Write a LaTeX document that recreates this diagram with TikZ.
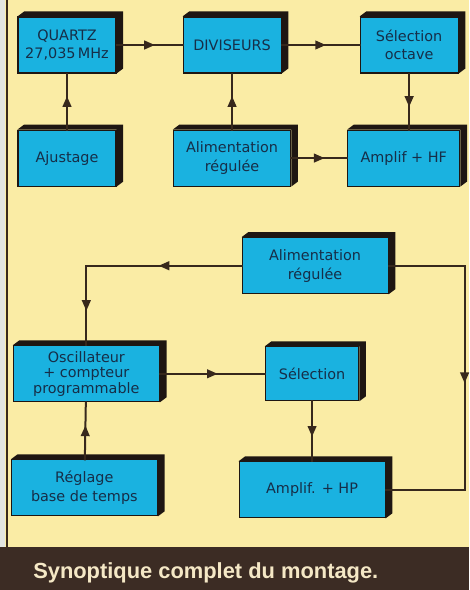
\documentclass[tikz,border=0pt]{standalone}
\usepackage{fontspec}
\setmainfont{DejaVu Sans}
\newfontfamily\captionfont{Liberation Sans}
\usetikzlibrary{arrows.meta, positioning, decorations.markings}

\definecolor{paper}{RGB}{250,236,165}
\definecolor{cyanbox}{RGB}{26,178,224}
\definecolor{boxtext}{RGB}{22,46,72}
\definecolor{wirecol}{RGB}{55,40,28}
\definecolor{depthcol}{RGB}{30,22,18}
\definecolor{band}{RGB}{60,44,36}
\definecolor{bandtext}{RGB}{245,232,198}
\definecolor{margin}{RGB}{226,229,226}

\begin{document}
\begin{tikzpicture}[
    node distance=42pt and 50pt,
    block/.style   ={draw=depthcol, line width=0.8pt, fill=cyanbox, text=boxtext,
                     minimum width=73.5pt, minimum height=42pt, inner sep=2pt,
                     align=center, font=\fontsize{10.8pt}{14pt}\selectfont},
    wide/.style    ={block, minimum width=109.5pt},
    wire/.style    ={draw=wirecol, line width=1.5pt, line cap=rect},
    midarrow/.style={postaction={decorate}, decoration={markings,
                     mark=at position 0.5 with {\arrow[xshift=4pt]{Triangle[length=8pt, width=6.5pt]}}}},
]

% ── Page ───────────────────────────────────────────────────────────────
\useasboundingbox (-50.25pt,33.75pt) rectangle (301.5pt,-408.75pt);
\fill[paper]  (-50.25pt,33.75pt) rectangle (301.5pt,-408.75pt);
\fill[margin] (-50.25pt,33.75pt) rectangle (-46.5pt,-376.5pt);
\draw[wirecol, line width=1.2pt] (-45pt,33.75pt) -- (-45pt,-376.5pt);
\fill[band]   (-50.25pt,-376.5pt) rectangle (301.5pt,-408.75pt);
\node[anchor=base west, inner sep=0pt, text=bandtext,
      font=\captionfont\bfseries\fontsize{16.4pt}{17pt}\selectfont] (caption)
      at (-25.5pt,-399.75pt) {Synoptique complet du montage.};

% ── Upper chain ────────────────────────────────────────────────────────
\node[block] (quartz) {QUARTZ\\27,035\,MHz};
\node[block, right=49.5pt of quartz] (divs) {DIVISEURS};
\node[block, right=58.5pt of divs]   (octv) {Sélection\\octave};
\node[block, below=of quartz] (ajust) {Ajustage};
\node[block, below=of divs,  minimum width=88pt] (alim) {Alimentation\\régulée};
\node[block, below=of octv,  xshift=-4pt, minimum width=84pt] (amphf) {Amplif + HF};

% ── Lower chain ────────────────────────────────────────────────────────
\node[wide, below=119pt of ajust, xshift=14.5pt,
      font=\fontsize{10.8pt}{11.5pt}\selectfont] (osc)
      {Oscillateur\\+ compteur\\programmable};
\node[block, right=78.75pt of osc, minimum width=70pt, minimum height=40.5pt] (sel) {Sélection};
\node[wide, above=39pt of sel, xshift=2.25pt] (alim2) {Alimentation\\régulée};
\node[wide, below=42.75pt of osc, xshift=-1.5pt] (regl) {Réglage\\base de temps};
\node[wide, below=45pt of sel] (amphp) {Amplif. + HP};

% ── Box depth ──────────────────────────────────────────────────────────
\foreach \bx in {quartz, divs, octv, ajust, alim, amphf, alim2, osc, sel, regl, amphp}
  \fill[depthcol] (\bx.north west) -- ++(5pt,3.75pt)
                  -- ([shift={(5pt,3.75pt)}]\bx.north east)
                  -- ([shift={(5pt,3.75pt)}]\bx.south east)
                  -- (\bx.south east) -- (\bx.north east) -- cycle;

% ── Arrows ─────────────────────────────────────────────────────────────
\draw[wire, midarrow] (quartz) -- (divs);
\draw[wire, midarrow] (divs)   -- (octv);
\draw[wire, midarrow] (ajust)  -- (quartz);
\draw[wire, midarrow] (alim)   -- (divs);
\draw[wire, midarrow] (octv.south) -- (octv.south |- amphf.north);
\draw[wire, midarrow] (alim)   -- (amphf);

\coordinate (elbow) at (alim2.west -| osc.north);
\draw[wire, midarrow] (alim2.west) -- (elbow);
\draw[wire, midarrow] (elbow) -- (osc.north);
\coordinate[right=57pt of alim2.east] (railtop);
\coordinate (railbot) at (railtop |- amphp.east);
\draw[wire] (alim2.east) -- (railtop);
\draw[wire, midarrow] (railtop) -- (railbot);
\draw[wire] (railbot) -- (amphp.east);
\draw[wire, midarrow] (osc)  -- (sel);
\draw[wire, midarrow] (sel)  -- (amphp);
\draw[wire, midarrow] (regl) -- (osc);

\end{tikzpicture}
\end{document}
